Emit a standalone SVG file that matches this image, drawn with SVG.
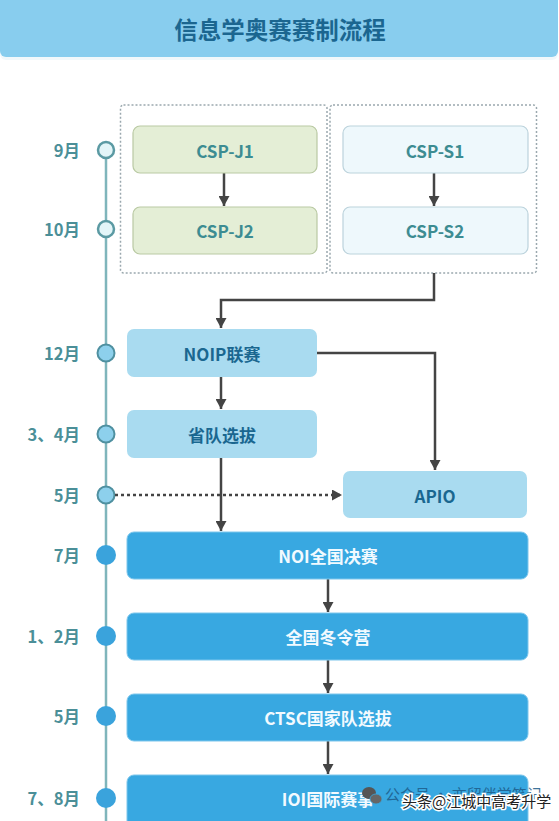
<svg xmlns="http://www.w3.org/2000/svg" width="559" height="821" viewBox="0 0 559 821">
<defs>
<style>
text{font-family:"Noto Sans CJK SC","Liberation Sans",sans-serif;font-weight:bold;dominant-baseline:central;}
.month{font-size:16.5px;fill:#4b8f98;text-anchor:end;}
.title{font-size:23.5px;fill:#1b6690;text-anchor:middle;}
.jbox{fill:#e4eed6;stroke:#b9c9a3;stroke-width:1.2;}
.sbox{fill:#eef8fc;stroke:#bcd3dc;stroke-width:1.2;}
.csp{font-size:17px;fill:#3d8c92;text-anchor:middle;}
.lbox{fill:#a9dbf0;}
.ltxt{font-size:17px;fill:#1a6790;text-anchor:middle;}
.bbox{fill:#38a8e1;stroke:#7cc6ec;stroke-width:1;}
.btxt{font-size:17px;fill:#f2faff;text-anchor:middle;}
.cont{fill:none;stroke:#9aa8ae;stroke-width:1.5;stroke-dasharray:2 2;}
.arrow{fill:none;stroke:#444;stroke-width:2.5;marker-end:url(#ah);}
.dots{fill:none;stroke:#444;stroke-width:2.5;stroke-dasharray:3 3;marker-end:url(#ah);}
.hollow{fill:#e3f5f8;stroke:#5b9aa3;stroke-width:2.5;}
.light{fill:#8dd0ec;stroke:#4f90a0;stroke-width:2;}
.full{fill:#3aa3dc;}
.wm1{font-size:15px;font-weight:normal;fill:#1d5c8a;}
.wm2{font-size:15px;font-weight:normal;fill:#222;stroke:#ffffff;stroke-width:3;paint-order:stroke;}
</style>
<marker id="ah" markerUnits="userSpaceOnUse" markerWidth="11" markerHeight="11" refX="10" refY="5.5" orient="auto">
<path d="M0,0 L10,5.5 L0,11 z" fill="#444"/>
</marker>
</defs>
<rect width="559" height="821" fill="#ffffff"/>

<g id="banner">
<rect x="0" y="3" width="558" height="57" rx="6" fill="#e8f3f8" opacity="0.6"/>
<rect x="0" y="-6" width="558" height="63" rx="6" fill="#88cdee"/>
<text class="title" x="280" y="29">信息学奥赛赛制流程</text>
</g>

<g id="timeline">
<line x1="106" y1="150" x2="106" y2="821" stroke="#7fb5bb" stroke-width="2.5"/>
<circle class="hollow" cx="106" cy="150" r="8"/>
<circle class="hollow" cx="106" cy="229" r="8"/>
<circle class="light" cx="106" cy="353" r="8.5"/>
<circle class="light" cx="106" cy="434" r="8.5"/>
<circle class="light" cx="106" cy="495" r="8.5"/>
<circle class="full" cx="106" cy="555" r="10"/>
<circle class="full" cx="106" cy="636" r="10"/>
<circle class="full" cx="106" cy="716" r="10"/>
<circle class="full" cx="106" cy="798" r="10"/>
<text class="month" x="80" y="150">9月</text>
<text class="month" x="80" y="229">10月</text>
<text class="month" x="80" y="353">12月</text>
<text class="month" x="80" y="434">3、4月</text>
<text class="month" x="80" y="495">5月</text>
<text class="month" x="80" y="555">7月</text>
<text class="month" x="80" y="636">1、2月</text>
<text class="month" x="80" y="716">5月</text>
<text class="month" x="80" y="798">7、8月</text>
</g>

<g id="containers">
<rect class="cont" x="120.5" y="105" width="206.5" height="168" rx="3"/>
<rect class="cont" x="330" y="105" width="206.5" height="168" rx="3"/>
</g>

<g id="connectors">
<path class="arrow" d="M224,173 L224,206"/>
<path class="arrow" d="M434,173 L434,206"/>
<path class="arrow" d="M434,273 L434,300 L221,300 L221,328"/>
<path class="arrow" d="M221,377 L221,409"/>
<path class="arrow" d="M317,353 L435,353 L435,470"/>
<path class="arrow" d="M221,458 L221,531"/>
<path class="dots" d="M115,495 L342,495"/>
<path class="arrow" d="M328,579 L328,612"/>
<path class="arrow" d="M328,660 L328,693"/>
<path class="arrow" d="M328,741 L328,774"/>
</g>

<g id="csp-j1"><rect class="jbox" x="133" y="126" width="184" height="47" rx="7"/><text class="csp" x="225" y="150">CSP-J1</text></g>
<g id="csp-j2"><rect class="jbox" x="133" y="207" width="184" height="47" rx="7"/><text class="csp" x="225" y="230">CSP-J2</text></g>
<g id="csp-s1"><rect class="sbox" x="343" y="126" width="185" height="47" rx="7"/><text class="csp" x="435" y="150">CSP-S1</text></g>
<g id="csp-s2"><rect class="sbox" x="343" y="207" width="185" height="47" rx="7"/><text class="csp" x="435" y="230">CSP-S2</text></g>
<g id="noip"><rect class="lbox" x="127" y="329" width="190" height="48" rx="7"/><text class="ltxt" x="222" y="353">NOIP联赛</text></g>
<g id="provincial"><rect class="lbox" x="127" y="410" width="190" height="48" rx="7"/><text class="ltxt" x="222" y="434">省队选拔</text></g>
<g id="apio"><rect class="lbox" x="343" y="471" width="184" height="47" rx="7"/><text class="ltxt" x="435" y="495">APIO</text></g>
<g id="noi"><rect class="bbox" x="127" y="532" width="401" height="47" rx="7"/><text class="btxt" x="328" y="555">NOI全国决赛</text></g>
<g id="winter"><rect class="bbox" x="127" y="613" width="401" height="47" rx="7"/><text class="btxt" x="328" y="636">全国冬令营</text></g>
<g id="ctsc"><rect class="bbox" x="127" y="694" width="401" height="47" rx="7"/><text class="btxt" x="328" y="717">CTSC国家队选拔</text></g>
<g id="ioi"><rect class="bbox" x="127" y="775" width="401" height="60" rx="7"/><text class="btxt" x="328" y="798">IOI国际赛事</text></g>

<g id="watermark">
<text class="wm1" x="385" y="793" opacity="0.85">公众号 · 亦留伴学笔记</text>
<ellipse cx="369" cy="793" rx="7" ry="6" fill="#555"/>
<ellipse cx="376" cy="799" rx="6" ry="5" fill="#666" stroke="#38a8e1" stroke-width="0.8"/>
<text class="wm2" x="402" y="800">头条@江城中高考升学</text>
</g>
</svg>
